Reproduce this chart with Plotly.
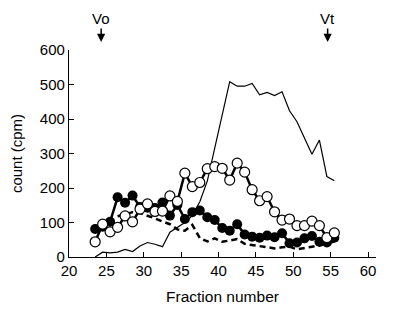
import plotly.graph_objects as go

fractions = [23.5 + i for i in range(33)]

open_vals = [44, 95, 73, 86, 119, 102, 139, 154, 132, 133, 177, 161, 243, 204, 216, 256,
             262, 257, 223, 272, 246, 195, 163, 175, 131, 107, 110, 91, 91, 104, 91, 56, 70]
filled_vals = [81, 88, 102, 173, 157, 178, 145, 143, 142, 158, 120, 151, 110, 130, 135, 115,
               107, 84, 76, 95, 65, 59, 56, 62, 57, 69, 40, 42, 54, 61, 44, 42, 56]
thin_vals = [0, 14, 12, 14, 22, 16, 32, 42, 37, 30, 72, 85, 100, 120, 160, 220,
             315, 415, 508, 495, 495, 503, 470, 477, 468, 479, 424, 392, 344, 298, 339, 233, 221]
dash_fracs = [26.5 + i for i in range(30)]
dash_vals = [118, 125, 130, 127, 120, 112, 103, 95, 80, 76, 93, 55, 45, 54, 44, 47,
             52, 38, 35, 32, 28, 25, 28, 30, 22, 27, 30, 33, 38, 45]

markers = [("Vo", 24.3), ("Vt", 54.6)]

font = "Liberation Sans, Arial, sans-serif"

fig = go.Figure()
fig.add_trace(go.Scatter(x=fractions, y=thin_vals, mode="lines",
                         line=dict(color="black", width=1.2), showlegend=False))
fig.add_trace(go.Scatter(x=dash_fracs, y=dash_vals, mode="lines",
                         line=dict(color="black", width=2.5, dash="6px,4px"), showlegend=False))
fig.add_trace(go.Scatter(x=fractions, y=filled_vals, mode="lines+markers",
                         line=dict(color="black", width=2.5),
                         marker=dict(symbol="circle", size=10, color="black"),
                         showlegend=False))
fig.add_trace(go.Scatter(x=fractions, y=open_vals, mode="lines+markers",
                         line=dict(color="black", width=2.5),
                         marker=dict(symbol="circle", size=10, color="white",
                                     line=dict(color="black", width=1.2)),
                         showlegend=False))

for label, xv in markers:
    fig.add_annotation(x=xv, y=1.0386, xref="x", yref="paper", text="", showarrow=True,
                       ax=0, ay=-15, arrowhead=2, arrowsize=1.1, arrowwidth=1.5,
                       arrowcolor="black")
    fig.add_annotation(x=xv, y=1.15, xref="x", yref="paper", text=label, showarrow=False,
                       yanchor="middle",
                       font=dict(size=15, color="black", family=font))

fig.update_layout(
    width=400, height=329,
    margin=dict(l=61, r=32, t=42, b=80),
    plot_bgcolor="white", paper_bgcolor="white",
    font=dict(family=font, size=15, color="black"),
)
fig.update_xaxes(range=[20, 61.07], tickvals=[20, 25, 30, 35, 40, 45, 50, 55, 60],
                 ticks="inside", ticklen=5, tickcolor="black", showline=True,
                 linecolor="black", linewidth=1.2, showgrid=False, zeroline=False,
                 automargin=False,
                 title=dict(text="Fraction number", font=dict(size=15.5), standoff=13),
                 tickfont=dict(size=15))
fig.update_yaxes(range=[0, 600], tickvals=[0, 100, 200, 300, 400, 500, 600],
                 ticks="inside", ticklen=5, tickcolor="black", showline=True,
                 linecolor="black", linewidth=1.2, showgrid=False, zeroline=False,
                 automargin=False,
                 title=dict(text="count (cpm)", font=dict(size=15), standoff=18),
                 tickfont=dict(size=15))

fig.write_html("out.html")
